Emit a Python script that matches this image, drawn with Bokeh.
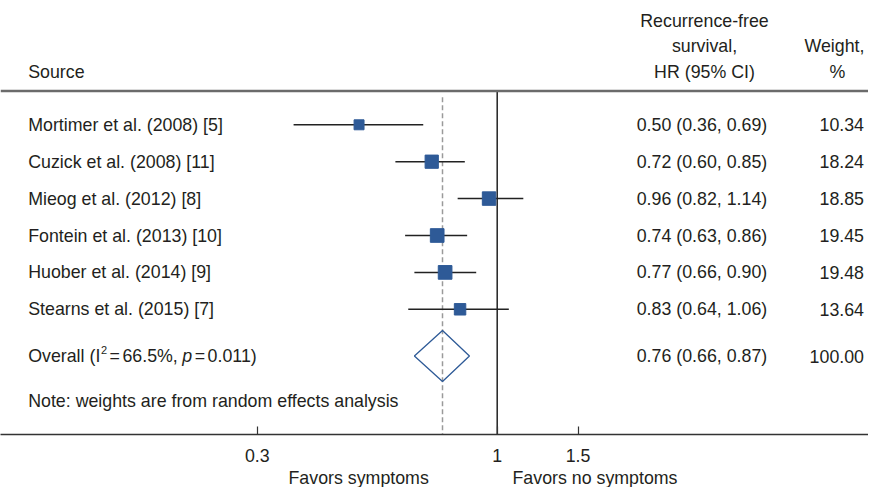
import numpy as np
from bokeh.plotting import figure
from bokeh.layouts import column
from bokeh.models import (Range1d, LogScale, LogAxis, FixedTicker, Span,
                          ColumnDataSource, CustomJSTickFormatter)
from bokeh.core.properties import value
from bokeh.embed import file_html
from bokeh.resources import INLINE

# ---------------- data ----------------
studies = ["Mortimer et al. (2008) [5]", "Cuzick et al. (2008) [11]",
           "Mieog et al. (2012) [8]", "Fontein et al. (2013) [10]",
           "Huober et al. (2014) [9]", "Stearns et al. (2015) [7]"]
hr = [0.50, 0.72, 0.96, 0.74, 0.77, 0.83]
ci_lo = [0.36, 0.60, 0.82, 0.63, 0.66, 0.64]
ci_hi = [0.69, 0.85, 1.14, 0.86, 0.90, 1.06]
weights = [10.34, 18.24, 18.85, 19.45, 19.48, 13.64]
overall_hr = 0.76
overall_lo = 0.66
overall_hi = 0.87
overall_weight = 100.00
i2_pct = 66.5
p_het = 0.011
tick_values = [0.3, 1, 1.5]
header_hr = ["Recurrence-free", "survival,", "HR (95% CI)"]
header_w = ["Weight,", "%"]
note_text = "Note: weights are from random effects analysis"
favors_left = "Favors symptoms"
favors_right = "Favors no symptoms"

# ---------------- layout ----------------
FONT_NAME = "Liberation Sans"
FONT = value(FONT_NAME)
FSZ = 17.8
FS = f"{FSZ}px"
TXT = "#231f20"
BLUE = "#2E5A97"
W = 868
H1, H2 = 469, 18
ROW_PX = 36.9
ROW0_PX = 124.3
FRAME_H = 434
px_per_ln = 199.3
one_px = 496.7  # px of HR = 1

y_top = -ROW0_PX / ROW_PX
y_bot = (FRAME_H - ROW0_PX) / ROW_PX

p = figure(width=W, height=H1, output_backend="svg", toolbar_location=None,
           x_range=Range1d(0, W), y_range=Range1d(y_bot, y_top),
           x_axis_location=None, y_axis_location=None,
           min_border_left=0, min_border_right=0, min_border_top=0,
           min_border_bottom=H1 - FRAME_H)
p.outline_line_color = None
p.grid.grid_line_color = None

p.extra_x_ranges = {"hr": Range1d(np.exp(-one_px / px_per_ln),
                                  np.exp((W - one_px) / px_per_ln))}
p.extra_x_scales = {"hr": LogScale()}

ax = LogAxis(x_range_name="hr", ticker=FixedTicker(ticks=tick_values),
             formatter=CustomJSTickFormatter(code="return String(tick);"))
ax.axis_line_color = "#333333"
ax.axis_line_width = 1.5
ax.major_tick_line_color = "#333333"
ax.major_tick_line_width = 1.2
ax.major_tick_in = 8
ax.major_tick_out = 0
ax.minor_tick_in = 0
ax.minor_tick_out = 0
ax.major_label_text_font = FONT_NAME
ax.major_label_text_font_size = FS
ax.major_label_text_color = TXT
ax.major_label_standoff = 14
p.add_layout(ax, "below")

rule_y = (90.5 - ROW0_PX) / ROW_PX
p.add_layout(Span(location=rule_y, dimension="width", line_color="#6b6b6b",
                  line_width=2.5))

# reference lines
p.segment(x0=[1], x1=[1], y0=[rule_y], y1=[y_bot], x_range_name="hr",
          line_color="#222222", line_width=1.5)
p.segment(x0=[overall_hr], x1=[overall_hr], y0=[-0.75], y1=[y_bot],
          x_range_name="hr", line_color="#9a9a9a", line_width=1.5,
          line_dash="5 3")

rows = list(range(len(studies)))
src = ColumnDataSource(dict(
    y=rows, hr=hr, lo=ci_lo, hi=ci_hi, w=weights,
    size=[3.1 * np.sqrt(w) for w in weights],
    name=studies,
    hrtxt=[f"{a:.2f} ({b:.2f}, {c:.2f})" for a, b, c in zip(hr, ci_lo, ci_hi)],
    wtxt=[f"{w:.2f}" for w in weights],
))

p.segment(x0="lo", x1="hi", y0="y", y1="y", source=src, x_range_name="hr",
          line_color="#222222", line_width=1.5)
p.scatter(x="hr", y="y", size="size", marker="square", source=src,
          x_range_name="hr", fill_color=BLUE, line_color=BLUE)

overall_row = (355.5 - ROW0_PX) / ROW_PX
note_row = (400.5 - ROW0_PX) / ROW_PX
dh = 25.5 / ROW_PX
p.patch(x=[overall_lo, overall_hr, overall_hi, overall_hr],
        y=[overall_row, overall_row - dh, overall_row, overall_row + dh],
        x_range_name="hr", fill_color=None, line_color=BLUE, line_width=1.3)

NAME_X = 27.7
HR_X = 766.7
W_X = 863.5
HR_HDR_X = 704
W_HDR_X = 834

common = dict(text_font=FONT, text_font_size=FS, text_color=TXT,
              text_baseline="middle")
p.text(x=NAME_X, y="y", text="name", source=src, text_align="left", **common)
p.text(x=HR_X, y="y", text="hrtxt", source=src, text_align="right", **common)
p.text(x=W_X, y="y", text="wtxt", source=src, text_align="right", **common)

# headers
hdr_rows = [(20 - ROW0_PX) / ROW_PX, (45.5 - ROW0_PX) / ROW_PX, (71 - ROW0_PX) / ROW_PX]
p.text(x=[NAME_X], y=[hdr_rows[2]], text=["Source"], text_align="left", **common)
p.text(x=[HR_HDR_X] * 3, y=hdr_rows, text=header_hr, text_align="center", **common)
p.text(x=[W_HDR_X, W_HDR_X + 3], y=hdr_rows[1:], text=header_w,
       text_align="center", **common)

# overall row label with superscript and italic p (advance widths, Arial metrics)
AW = {"O": 778, "v": 500, "e": 556, "r": 333, "a": 556, "l": 222, " ": 278,
      "(": 333, "I": 278, "=": 584, "0": 556, "1": 556, "2": 556, "5": 556,
      "6": 556, ".": 278, "%": 889, ",": 278, "p": 556, ")": 333}


def adv(s, size):
    return sum(AW[c] for c in s) * size / 1000.0


pieces = [("Overall (I", FSZ, "normal", 0.0, 0.0),
          ("2", 11.0, "normal", -6.0 / ROW_PX, 0.5),
          ("=", FSZ, "normal", 0.0, 2.5),
          (f"{i2_pct}%,", FSZ, "normal", 0.0, 2.5),
          ("p", FSZ, "italic", 0.0, 4.5),
          ("=", FSZ, "normal", 0.0, 2.5),
          (f"{p_het:.3f})", FSZ, "normal", 0.0, 2.5)]
cx = NAME_X
for s, sz, style, dy, gap in pieces:
    cx += gap
    p.text(x=[cx], y=[overall_row + dy], text=[s], text_align="left",
           text_font=FONT, text_font_size=f"{sz}px", text_font_style=style,
           text_color=TXT, text_baseline="middle")
    cx += adv(s, sz)

p.text(x=[HR_X], y=[overall_row],
       text=[f"{overall_hr:.2f} ({overall_lo:.2f}, {overall_hi:.2f})"],
       text_align="right", **common)
p.text(x=[W_X], y=[overall_row], text=[f"{overall_weight:.2f}"],
       text_align="right", **common)

p.text(x=[NAME_X], y=[note_row], text=[note_text], text_align="left", **common)

# bottom strip with the direction labels
p2 = figure(width=W, height=H2, output_backend="svg", toolbar_location=None,
            x_range=Range1d(0, W), y_range=Range1d(H2, 0),
            x_axis_location=None, y_axis_location=None,
            min_border_left=0, min_border_right=0, min_border_top=0,
            min_border_bottom=0)
p2.outline_line_color = None
p2.grid.grid_line_color = None
p2.text(x=[428.3, 512], y=[8, 8], text=[favors_left, favors_right],
        text_align=["right", "left"], **common)

layout = column(p, p2, spacing=0)
open("out.html", "w").write(file_html(layout, INLINE))
